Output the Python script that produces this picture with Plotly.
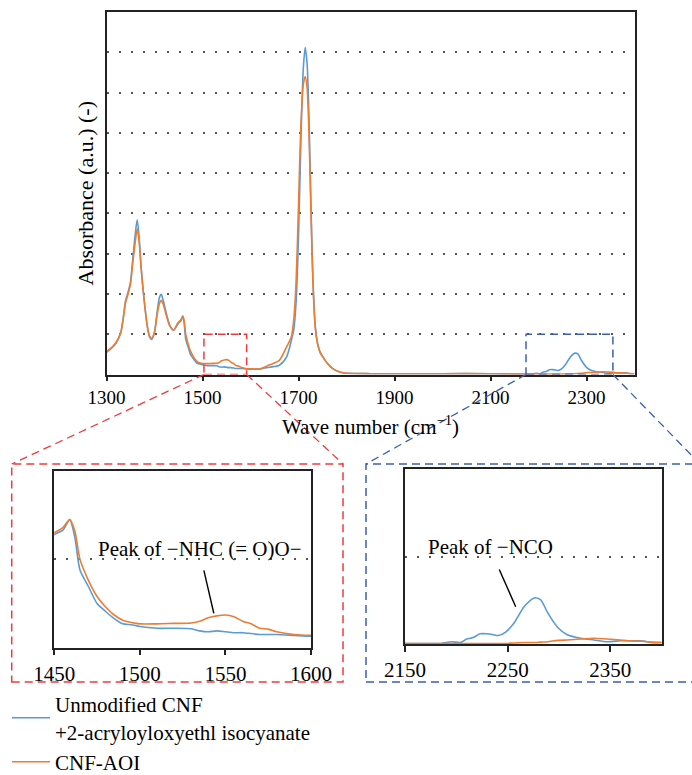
import plotly.graph_objects as go

# ---------------- data ----------------
wavenumber = [1300, 1310, 1320, 1330, 1340, 1345, 1350, 1355, 1360, 1364, 1368, 1372, 1378, 1385,
              1390, 1394, 1400, 1405, 1410, 1414, 1418, 1425, 1432, 1440, 1447, 1450, 1455, 1459,
              1462, 1465, 1470, 1475, 1480, 1485, 1490, 1495, 1500, 1510, 1520, 1530, 1535, 1540,
              1545, 1550, 1555, 1560, 1565, 1570, 1575, 1580, 1590, 1600, 1620, 1640, 1660, 1675,
              1685, 1690, 1695, 1700, 1705, 1710, 1714, 1718, 1722, 1726, 1730, 1735, 1740, 1745,
              1750, 1760, 1770, 1780, 1790, 1800, 1850, 1900, 2000, 2100, 2150, 2185, 2195, 2204,
              2210, 2217, 2223, 2230, 2236, 2241, 2248, 2256, 2266, 2276, 2282, 2289, 2299, 2308,
              2321, 2334, 2347, 2360, 2367, 2380, 2386, 2390, 2400]

unmodified_cnf_aoi = [0.55, 0.65, 0.78, 1.05, 1.85, 2.05, 2.3, 2.9, 3.5, 3.84, 3.4, 2.7, 1.9, 1.2,
                      0.92, 0.87, 1.05, 1.5, 1.9, 1.99, 1.85, 1.5, 1.22, 1.1, 1.22, 1.28, 1.33, 1.45,
                      1.25, 0.88, 0.69, 0.5, 0.41, 0.33, 0.27, 0.26, 0.24, 0.22, 0.22, 0.215, 0.19, 0.18,
                      0.19, 0.18, 0.17, 0.17, 0.16, 0.15, 0.15, 0.15, 0.14, 0.13, 0.14, 0.18, 0.23, 0.43,
                      0.84, 1.1, 1.8, 3.4, 5.8, 7.6, 8.12, 7.7, 6.3, 4.2, 2.4, 1.2, 0.75, 0.55,
                      0.45, 0.28, 0.16, 0.09, 0.05, 0.03, 0.02, 0.02, 0.02, 0.02, 0.01, 0.01, 0.03, 0.02,
                      0.06, 0.08, 0.12, 0.12, 0.11, 0.1, 0.14, 0.24, 0.43, 0.53, 0.51, 0.36, 0.19, 0.11,
                      0.07, 0.05, 0.03, 0.04, 0.04, 0.04, 0.03, 0.02, 0.02]

cnf_aoi = [0.57, 0.66, 0.8, 1.05, 1.8, 2.0, 2.25, 2.8, 3.3, 3.62, 3.3, 2.65, 1.9, 1.2,
           0.95, 0.9, 1.05, 1.45, 1.75, 1.84, 1.75, 1.45, 1.2, 1.1, 1.25, 1.3, 1.36, 1.45,
           1.32, 1.0, 0.76, 0.58, 0.46, 0.37, 0.31, 0.285, 0.27, 0.27, 0.275, 0.28, 0.30, 0.34,
           0.36, 0.37, 0.35, 0.30, 0.27, 0.22, 0.21, 0.18, 0.15, 0.14, 0.14, 0.24, 0.35, 0.68,
           0.93, 1.35, 2.3, 4.2, 6.2, 7.2, 7.4, 7.1, 5.9, 4.0, 2.3, 1.15, 0.75, 0.55,
           0.45, 0.28, 0.16, 0.09, 0.05, 0.03, 0.02, 0.02, 0.02, 0.02, 0.01, 0.01, 0.01, 0.01,
           0.01, 0.01, 0.01, 0.01, 0.01, 0.01, 0.01, 0.015, 0.02, 0.02, 0.025, 0.03, 0.045, 0.05,
           0.06, 0.07, 0.06, 0.05, 0.04, 0.035, 0.03, 0.025, 0.02]

series_names = ["Unmodified CNF<br>+2-acryloyloxyethl isocyanate", "CNF-AOI"]
main_xticks = [1300, 1500, 1700, 1900, 2100, 2300]
inset1_xticks = [1450, 1500, 1550, 1600]
inset2_xticks = [2150, 2250, 2350]
main_range = [1300, 2400]
inset1_range = [1450, 1600]
inset2_range = [2150, 2400]
box1 = [1503, 1592]   # red zoom box in main chart (x-range)
box2 = [2174, 2355]   # blue zoom box in main chart (x-range)
label1 = "Peak of −NHC (= O)O−"
label2 = "Peak of −NCO"

# ---------------- layout geometry ----------------
W, H = 692, 775
def px(xp):
    return xp / W
def py(yp):
    return 1 - yp / H

main_dx = [px(106.5), px(634.5)]
main_dy = [py(374.5), py(12)]
in1_dx = [px(54.3), px(311)]
in1_dy = [py(647.7), py(471)]
in2_dx = [px(405), px(661.7)]
in2_dy = [py(644.3), py(469.3)]
MAIN_YMAX = 9

def main_to_paper(xv, yv):
    fx = (xv - main_range[0]) / (main_range[1] - main_range[0])
    fy = yv / MAIN_YMAX
    return (main_dx[0] + fx * (main_dx[1] - main_dx[0]),
            main_dy[0] + fy * (main_dy[1] - main_dy[0]))

BLUE = "#5b9bd5"
ORANGE = "#ed7d31"
RED = "#ee3b3f"
NAVY = "#3c5fad"
FONT = "Liberation Serif"

fig = go.Figure()
series = [(unmodified_cnf_aoi, BLUE, series_names[0]), (cnf_aoi, ORANGE, series_names[1])]
for axn, show in [("", True), ("2", False), ("3", False)]:
    for vals, col, name in series:
        fig.add_trace(go.Scatter(
            x=wavenumber, y=vals, mode="lines", name=name, showlegend=show,
            line=dict(color=col, width=1.6, shape="spline", smoothing=0.7),
            xaxis="x" + axn, yaxis="y" + axn, legendgroup=name))

axis_common = dict(showline=True, mirror=True, linecolor="#222", linewidth=1.5,
                   zeroline=False, color="black", automargin=False)
grid_common = dict(showgrid=True, gridcolor="#555", gridwidth=1.6, griddash="2px,10px")

fig.update_layout(
    width=W, height=H, margin=dict(l=0, r=0, t=0, b=0, pad=0, autoexpand=False),
    paper_bgcolor="white", plot_bgcolor="white",
    font=dict(family=FONT, size=19, color="black"),
    xaxis=dict(domain=main_dx, range=main_range, tickvals=main_xticks, ticks="outside",
               ticklen=5, tickwidth=1.5, tickcolor="#222", showgrid=False,
               tickfont=dict(size=19),
               title=dict(text="Wave number (cm<sup>−1</sup>)", font=dict(size=21), standoff=12),
               anchor="y", **axis_common),
    yaxis=dict(domain=main_dy, range=[0, MAIN_YMAX], tickvals=[1, 2, 3, 4, 5, 6, 7, 8],
               showticklabels=False, ticks="",
               title=dict(text="Absorbance (a.u.) (-)", font=dict(size=22), standoff=5),
               anchor="x", **grid_common, **axis_common),
    xaxis2=dict(domain=in1_dx, range=inset1_range, tickvals=inset1_xticks, ticks="outside",
                ticklen=6, tickwidth=1.5, tickcolor="#222", showgrid=False,
                tickfont=dict(size=21), anchor="y2", **axis_common),
    yaxis2=dict(domain=in1_dy, range=[0, 2], tickvals=[1], showticklabels=False, ticks="",
                anchor="x2", **grid_common, **axis_common),
    xaxis3=dict(domain=in2_dx, range=inset2_range, tickvals=inset2_xticks, ticks="outside",
                ticklen=6, tickwidth=1.5, tickcolor="#222", showgrid=False,
                tickfont=dict(size=21), anchor="y3", **axis_common),
    yaxis3=dict(domain=in2_dy, range=[0, 2], tickvals=[1], showticklabels=False, ticks="",
                anchor="x3", **grid_common, **axis_common),
    legend=dict(x=px(7), y=py(684), xanchor="left", yanchor="top",
                font=dict(size=21, family=FONT), bgcolor="rgba(0,0,0,0)",
                tracegroupgap=0, valign="middle", itemwidth=38),
    showlegend=True,
)

shapes = []
dash = "8px,5px"
for (bx, col) in [(box1, RED), (box2, NAVY)]:
    shapes.append(dict(type="rect", xref="x", yref="y", x0=bx[0], x1=bx[1], y0=0, y1=1,
                       line=dict(color=col, width=1.5, dash=dash), layer="above"))
outer1 = [px(11.7), px(343), py(682), py(464)]
outer2 = [px(366), px(700), py(682), py(464)]
for (ob, col) in [(outer1, RED), (outer2, NAVY)]:
    shapes.append(dict(type="rect", xref="paper", yref="paper", x0=ob[0], x1=ob[1],
                       y0=ob[2], y1=ob[3], line=dict(color=col, width=1.5, dash=dash)))
for (bx, ob, col) in [(box1, outer1, RED), (box2, outer2, NAVY)]:
    lx, ly = main_to_paper(bx[0], 0)
    rx, ry = main_to_paper(bx[1], 0)
    shapes.append(dict(type="line", xref="paper", yref="paper", x0=lx, y0=ly, x1=ob[0], y1=ob[3],
                       line=dict(color=col, width=1.3, dash=dash)))
    shapes.append(dict(type="line", xref="paper", yref="paper", x0=rx, y0=ry, x1=ob[1], y1=ob[3],
                       line=dict(color=col, width=1.3, dash=dash)))
shapes.append(dict(type="line", xref="x2", yref="y2", x0=1537.4, y0=0.876, x1=1543.2, y1=0.39,
                   line=dict(color="black", width=1.4)))
shapes.append(dict(type="line", xref="x3", yref="y3", x0=2241.8, y0=0.854, x1=2257.8, y1=0.43,
                   line=dict(color="black", width=1.4)))
fig.update_layout(shapes=shapes)

fig.add_annotation(xref="x2", yref="y2", x=1535, y=1.12, text=label1, showarrow=False,
                   font=dict(size=21, family=FONT, color="black"))
fig.add_annotation(xref="x3", yref="y3", x=2233, y=1.11, text=label2, showarrow=False,
                   font=dict(size=21, family=FONT, color="black"))

fig.write_html("out.html", config={"displayModeBar": False},
               post_script="document.body.style.margin='0';document.body.style.overflow='hidden';")
